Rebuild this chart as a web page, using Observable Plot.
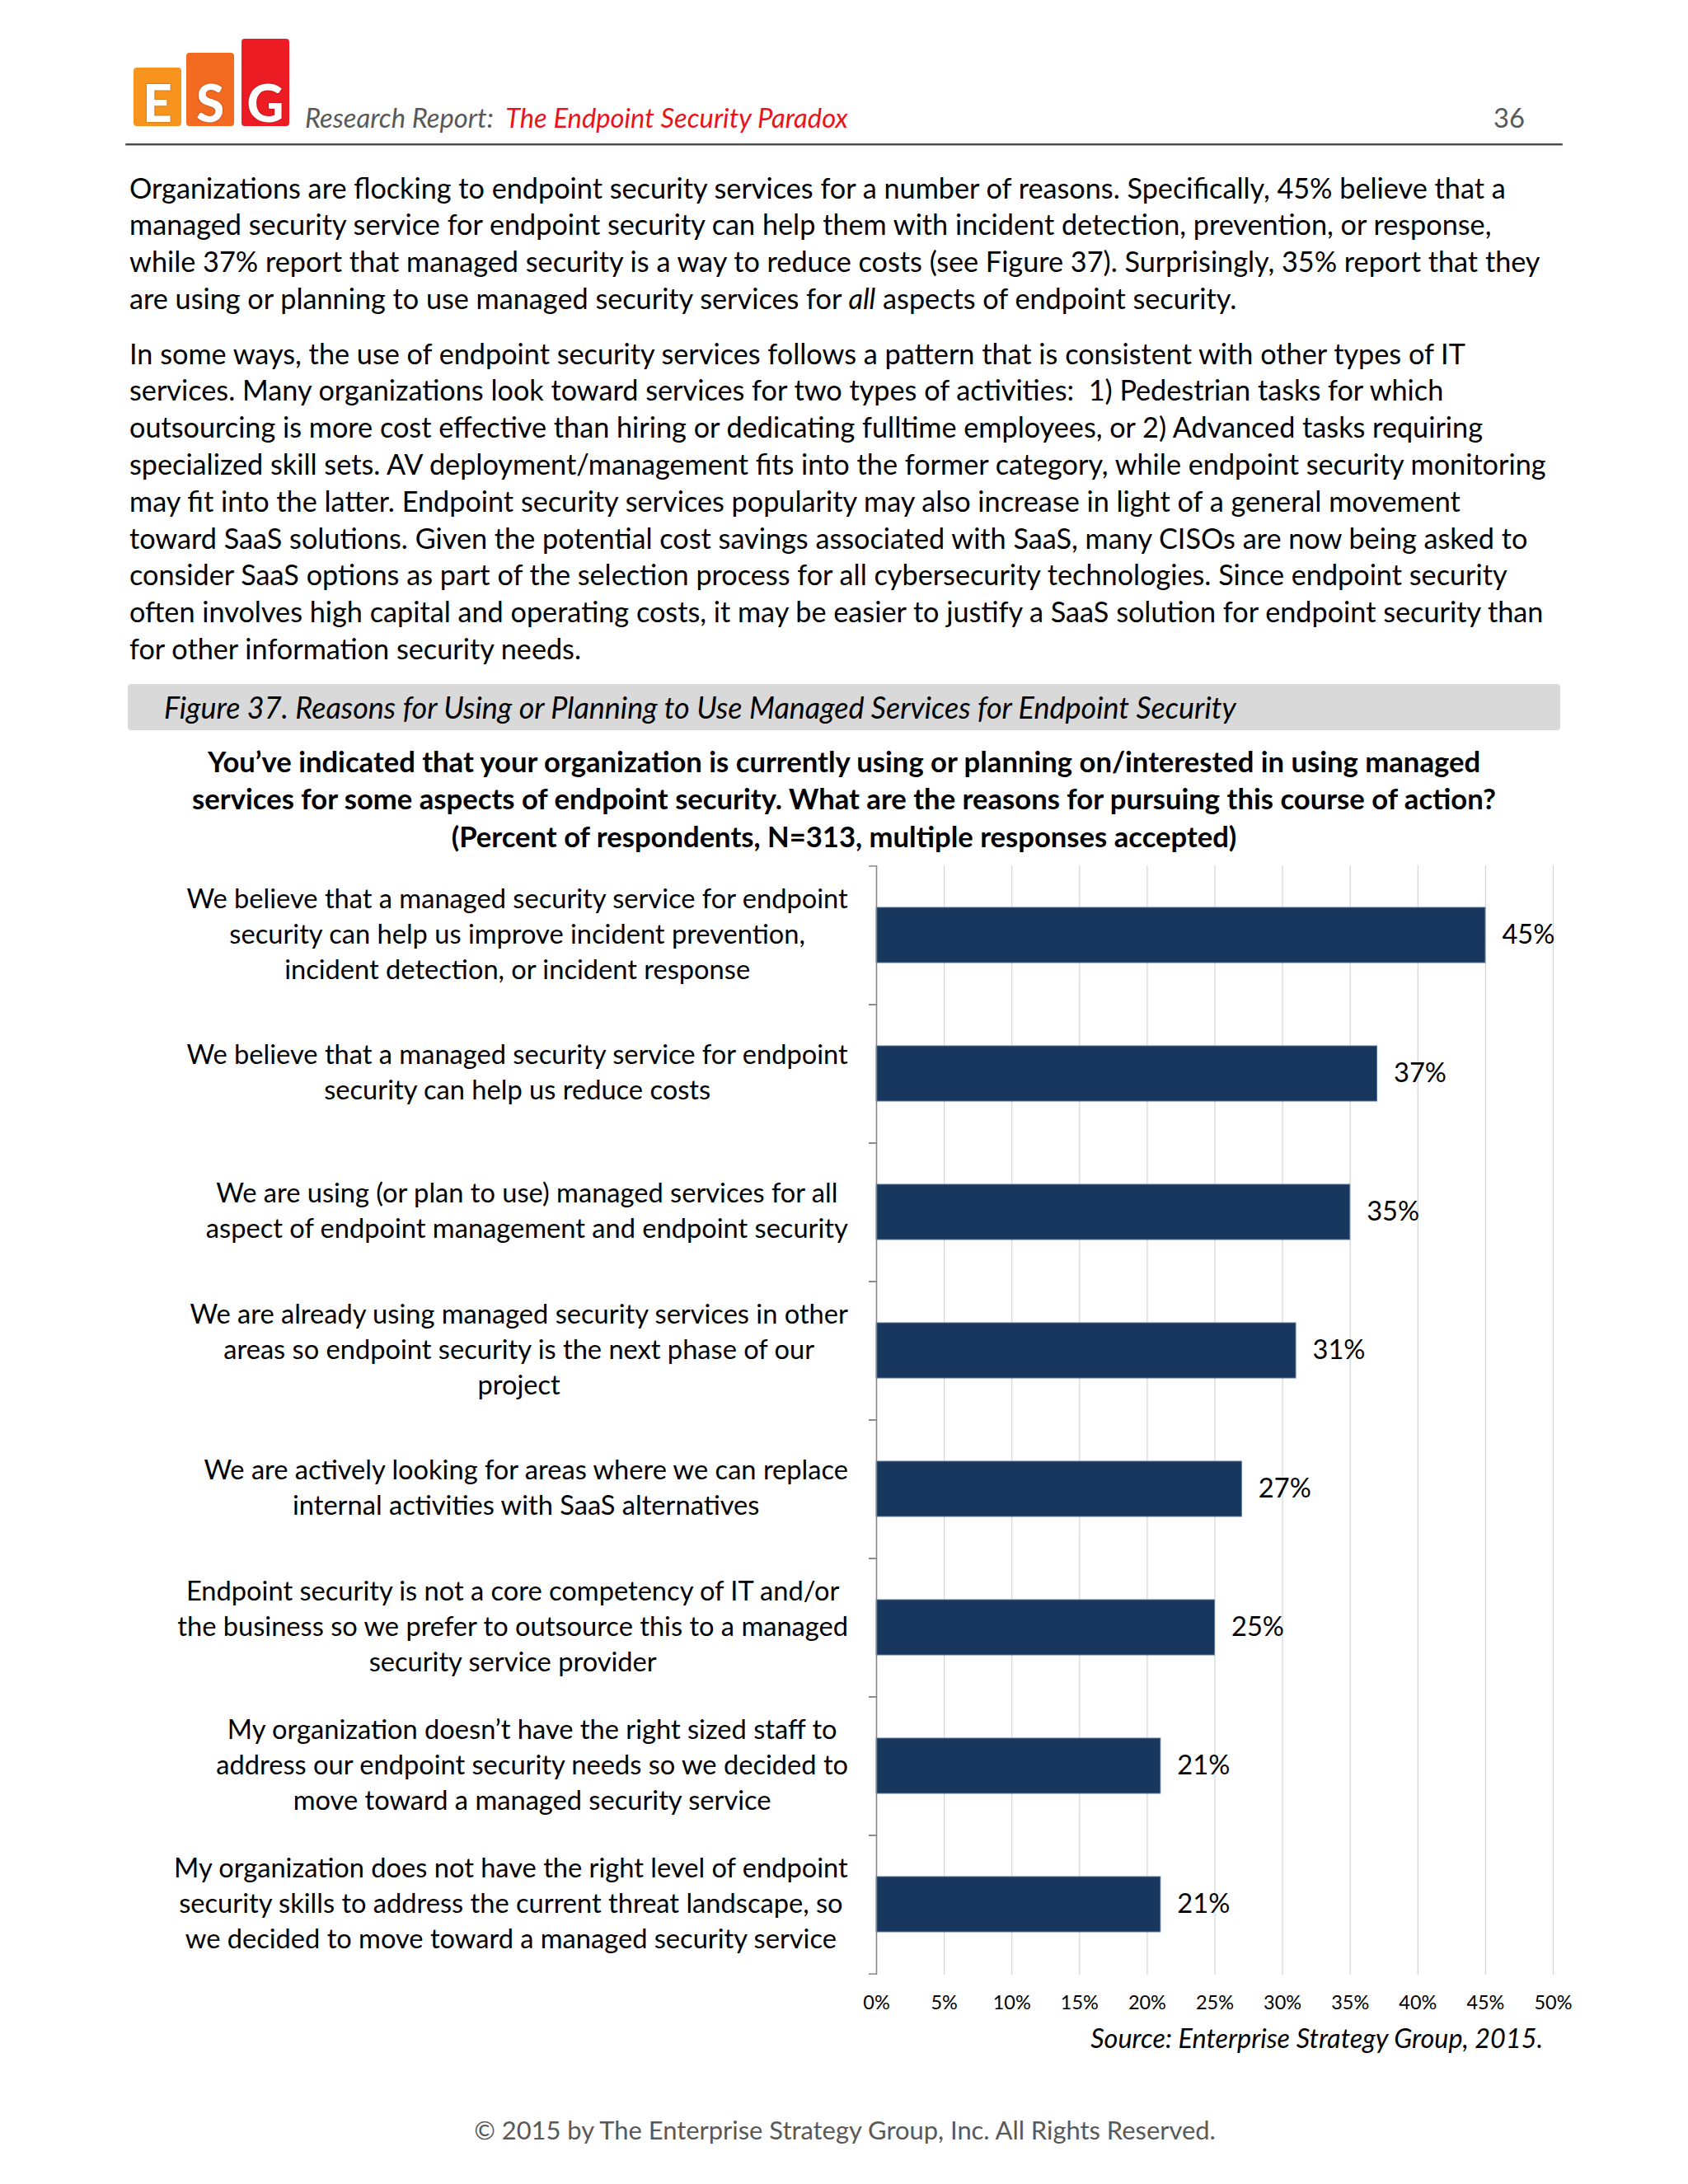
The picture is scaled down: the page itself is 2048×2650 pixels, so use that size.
<!DOCTYPE html>
<html>
<head>
<meta charset="utf-8">
<script src="https://cdn.jsdelivr.net/npm/d3@7"></script>
<script src="https://cdn.jsdelivr.net/npm/@observablehq/plot@0.6"></script>
<style>
html, body { margin: 0; padding: 0; background: #fff; }
#page { position: relative; width: 2048px; height: 2650px; background: #fff; font-family: Lato, sans-serif; color: #000; overflow: hidden; }
.ln { position: absolute; white-space: nowrap; width: max-content; }
.blk { position: absolute; border-radius: 4px; }
.lg { position: absolute; color: #fff; font-weight: 900; font-family: Lato, sans-serif; text-align: center; text-shadow: 0 0 2px rgba(0,0,0,0.45); }
#chart { position: absolute; left: 0; top: 1030px; }
</style>
</head>
<body>
<div id="page"></div>
<script>
// ---------- DATA ----------
const categories = [
  "We believe that a managed security service for endpoint\nsecurity can help us improve incident prevention,\nincident detection, or incident response",
  "We believe that a managed security service for endpoint\nsecurity can help us reduce costs",
  "We are using (or plan to use) managed services for all\naspect of endpoint management and endpoint security",
  "We are already using managed security services in other\nareas so endpoint security is the next phase of our\nproject",
  "We are actively looking for areas where we can replace\ninternal activities with SaaS alternatives",
  "Endpoint security is not a core competency of IT and/or\nthe business so we prefer to outsource this to a managed\nsecurity service provider",
  "My organization doesn\u2019t have the right sized staff to\naddress our endpoint security needs so we decided to\nmove toward a managed security service",
  "My organization does not have the right level of endpoint\nsecurity skills to address the current threat landscape, so\nwe decided to move toward a managed security service"
];
const values = [45, 37, 35, 31, 27, 25, 21, 21];
const xTicks = [0, 5, 10, 15, 20, 25, 30, 35, 40, 45, 50];

const headerLabel = "Research Report:";
const headerTitle = "The Endpoint Security Paradox";
const pageNumber = "36";
const para1 = [
  "Organizations are flocking to endpoint security services for a number of reasons. Specifically, 45% believe that a",
  "managed security service for endpoint security can help them with incident detection, prevention, or response,",
  "while 37% report that managed security is a way to reduce costs (see Figure 37). Surprisingly, 35% report that they",
  "are using or planning to use managed security services for <i>all</i> aspects of endpoint security."
];
const para2 = [
  "In some ways, the use of endpoint security services follows a pattern that is consistent with other types of IT",
  "services. Many organizations look toward services for two types of activities:&nbsp; 1) Pedestrian tasks for which",
  "outsourcing is more cost effective than hiring or dedicating fulltime employees, or 2) Advanced tasks requiring",
  "specialized skill sets. AV deployment/management fits into the former category, while endpoint security monitoring",
  "may fit into the latter. Endpoint security services popularity may also increase in light of a general movement",
  "toward SaaS solutions. Given the potential cost savings associated with SaaS, many CISOs are now being asked to",
  "consider SaaS options as part of the selection process for all cybersecurity technologies. Since endpoint security",
  "often involves high capital and operating costs, it may be easier to justify a SaaS solution for endpoint security than",
  "for other information security needs."
];
const figureCaption = "Figure 37. Reasons for Using or Planning to Use Managed Services for Endpoint Security";
const chartTitle = [
  "You\u2019ve indicated that your organization is currently using or planning on/interested in using managed",
  "services for some aspects of endpoint security. What are the reasons for pursuing this course of action?",
  "(Percent of respondents, N=313, multiple responses accepted)"
];
const sourceText = "Source: Enterprise Strategy Group, 2015.";
const footerText = "\u00A9 2015 by The Enterprise Strategy Group, Inc. All Rights Reserved.";

// ---------- LAYOUT HELPERS ----------
const page = document.getElementById("page");
function line(html, o) {
  const d = document.createElement("div");
  d.className = "ln";
  d.innerHTML = html;
  Object.assign(d.style, o.style || {});
  d.style.fontSize = o.size + "px";
  d.style.lineHeight = o.lh + "px";
  d.style.top = (o.cy - o.lh / 2) + "px";
  page.appendChild(d);
  let w = d.getBoundingClientRect().width;
  if (o.fit) {
    const s = o.size * o.fit / w;
    d.style.fontSize = s + "px";
    w = d.getBoundingClientRect().width;
  }
  if (o.left != null) d.style.left = o.left + "px";
  else if (o.right != null) d.style.left = (o.right - w) + "px";
  else d.style.left = (o.cx - w / 2) + "px";
  return parseFloat(d.style.fontSize);
}
function box(left, top, w, h, bg, cls) {
  const d = document.createElement("div");
  d.className = cls || "blk";
  Object.assign(d.style, {position: "absolute", left: left + "px", top: top + "px", width: w + "px", height: h + "px", background: bg});
  page.appendChild(d);
  return d;
}

// ---------- LOGO ----------
const logo = [["E", 162, 82, "#F7941E"], ["S", 226, 64, "#F26B21"], ["G", 293, 47, "#EC1C24"]];
for (const [ch, x, top, col] of logo) {
  box(x, top, 58, 153 - top, col);
  const t = document.createElement("div");
  t.className = "lg";
  t.textContent = ch;
  Object.assign(t.style, {left: x + "px", top: "94px", width: "58px", fontSize: "62px", lineHeight: "60px"});
  page.appendChild(t);
}

// ---------- HEADER ----------
const hs = line(`<i style="color:#595959">${headerLabel}&nbsp; </i><i style="color:#E8141C">${headerTitle}</i>`,
  {size: 30, lh: 40, cy: 143, left: 370, fit: 659});
line(pageNumber, {size: hs, lh: 40, cy: 143, right: 1850, style: {color: "#595959"}});
box(152, 174, 1744, 2, "#4a4a4a");
box(152, 176, 1744, 1, "#b0b0b0");

// ---------- BODY ----------
const bodyFs = line(para1[0], {size: 30, lh: 44.8, cy: 228, left: 157, fit: 1670});
para1.slice(1).forEach((t, i) => line(t, {size: bodyFs, lh: 44.8, cy: 228 + (i + 1) * 44.8, left: 157}));
para2.forEach((t, i) => line(t, {size: bodyFs, lh: 44.8, cy: 429 + i * 44.8, left: 157}));

// ---------- FIGURE CAPTION ----------
box(155, 830, 1738, 56, "#d9d9d9");
line(`<i>${figureCaption}</i>`, {size: 30, lh: 44, cy: 859, left: 199, fit: 1301});

// ---------- CHART TITLE ----------
const titleFs = line(`<b>${chartTitle[1]}</b>`, {size: 32, lh: 45, cy: 968, cx: 1024, fit: 1582});
line(`<b>${chartTitle[0]}</b>`, {size: titleFs, lh: 45, cy: 923, cx: 1024});
line(`<b>${chartTitle[2]}</b>`, {size: titleFs, lh: 45, cy: 1014, cx: 1024});

// ---------- SOURCE & FOOTER ----------
line(`<i>${sourceText}</i>`, {size: 30, lh: 44, cy: 2473, right: 1872, fit: 549});
line(footerText, {size: 28, lh: 40, cy: 2585, cx: 1025, fit: 900, style: {color: "#595959"}});

// ---------- CHART ----------
const ctx = document.createElement("canvas").getContext("2d");
function tw(text, font) { ctx.font = font; return ctx.measureText(text).width; }
const labFs = 31 * 804 / tw("We believe that a managed security service for endpoint", "31px Lato");
const valFs = 31 * 64 / tw("45%", "31px Lato");
const tickFs = 22 * 46 / tw("50%", "22px Lato");

const data = categories.map((c, i) => ({category: c, value: values[i]}));
const H = 1430, mT = 20, mB = 64, mL = 1063, mR = 164;
const step = (H - mT - mB) / categories.length;

const chart = Plot.plot({
  width: 2048,
  height: H,
  marginLeft: mL,
  marginRight: mR,
  marginTop: mT,
  marginBottom: mB,
  style: {fontFamily: "Lato, sans-serif", fontSize: tickFs + "px", color: "#000", background: "transparent", overflow: "visible"},
  x: {domain: [0, 50], axis: null, label: null},
  y: {domain: categories, paddingInner: 0.6, paddingOuter: 0.3, axis: null, label: null},
  marks: [
    Plot.gridX(xTicks, {stroke: "#d4d4d4", strokeOpacity: 1, strokeWidth: 1.2}),
    Plot.axisX(xTicks, {tickSize: 0, tickPadding: 25, label: null, tickFormat: d => d + "%", fontSize: tickFs}),
    Plot.barX(data, {x: "value", y: "category", fill: "#17375e", stroke: "#56769a", strokeWidth: 1}),
    Plot.ruleX([0], {stroke: "#868686", strokeWidth: 1.5}),
    Plot.axisY({tickSize: 9, label: null, tickFormat: () => "", dy: -step / 2, stroke: "#868686", strokeWidth: 1.5}),
    Plot.axisY({tickSize: 9, label: null, tickFormat: () => "", dy: step / 2, stroke: "#868686", strokeWidth: 1.5}),
    Plot.text(data, {x: "value", y: "category", text: d => d.value + "%", textAnchor: "start", dx: 20, fontSize: valFs, fill: "#000"}),
    Plot.text(data, {y: "category", text: "category", frameAnchor: "left", textAnchor: "middle", dx: -420, dy: -4,
      fontSize: labFs, lineHeight: 43 / labFs, fill: "#000"})
  ]
});
const holder = document.createElement("div");
holder.id = "chart";
holder.appendChild(chart);
page.appendChild(holder);

// center each label block on itself, block right-aligned next to the axis
const labelRight = 1029;
const flat = new Set(categories.map(c => c.replace(/\n/g, "")));
const svgLeft = chart.getBoundingClientRect().left;
chart.querySelectorAll("text").forEach(t => {
  if (!flat.has(t.textContent.replace(/\n/g, ""))) return;
  const r = t.getBoundingClientRect();
  const shift = labelRight - (r.right - svgLeft);
  const tr = t.getAttribute("transform") || "";
  t.setAttribute("transform", `translate(${shift},0) ${tr}`);
});
</script>
</body>
</html>
